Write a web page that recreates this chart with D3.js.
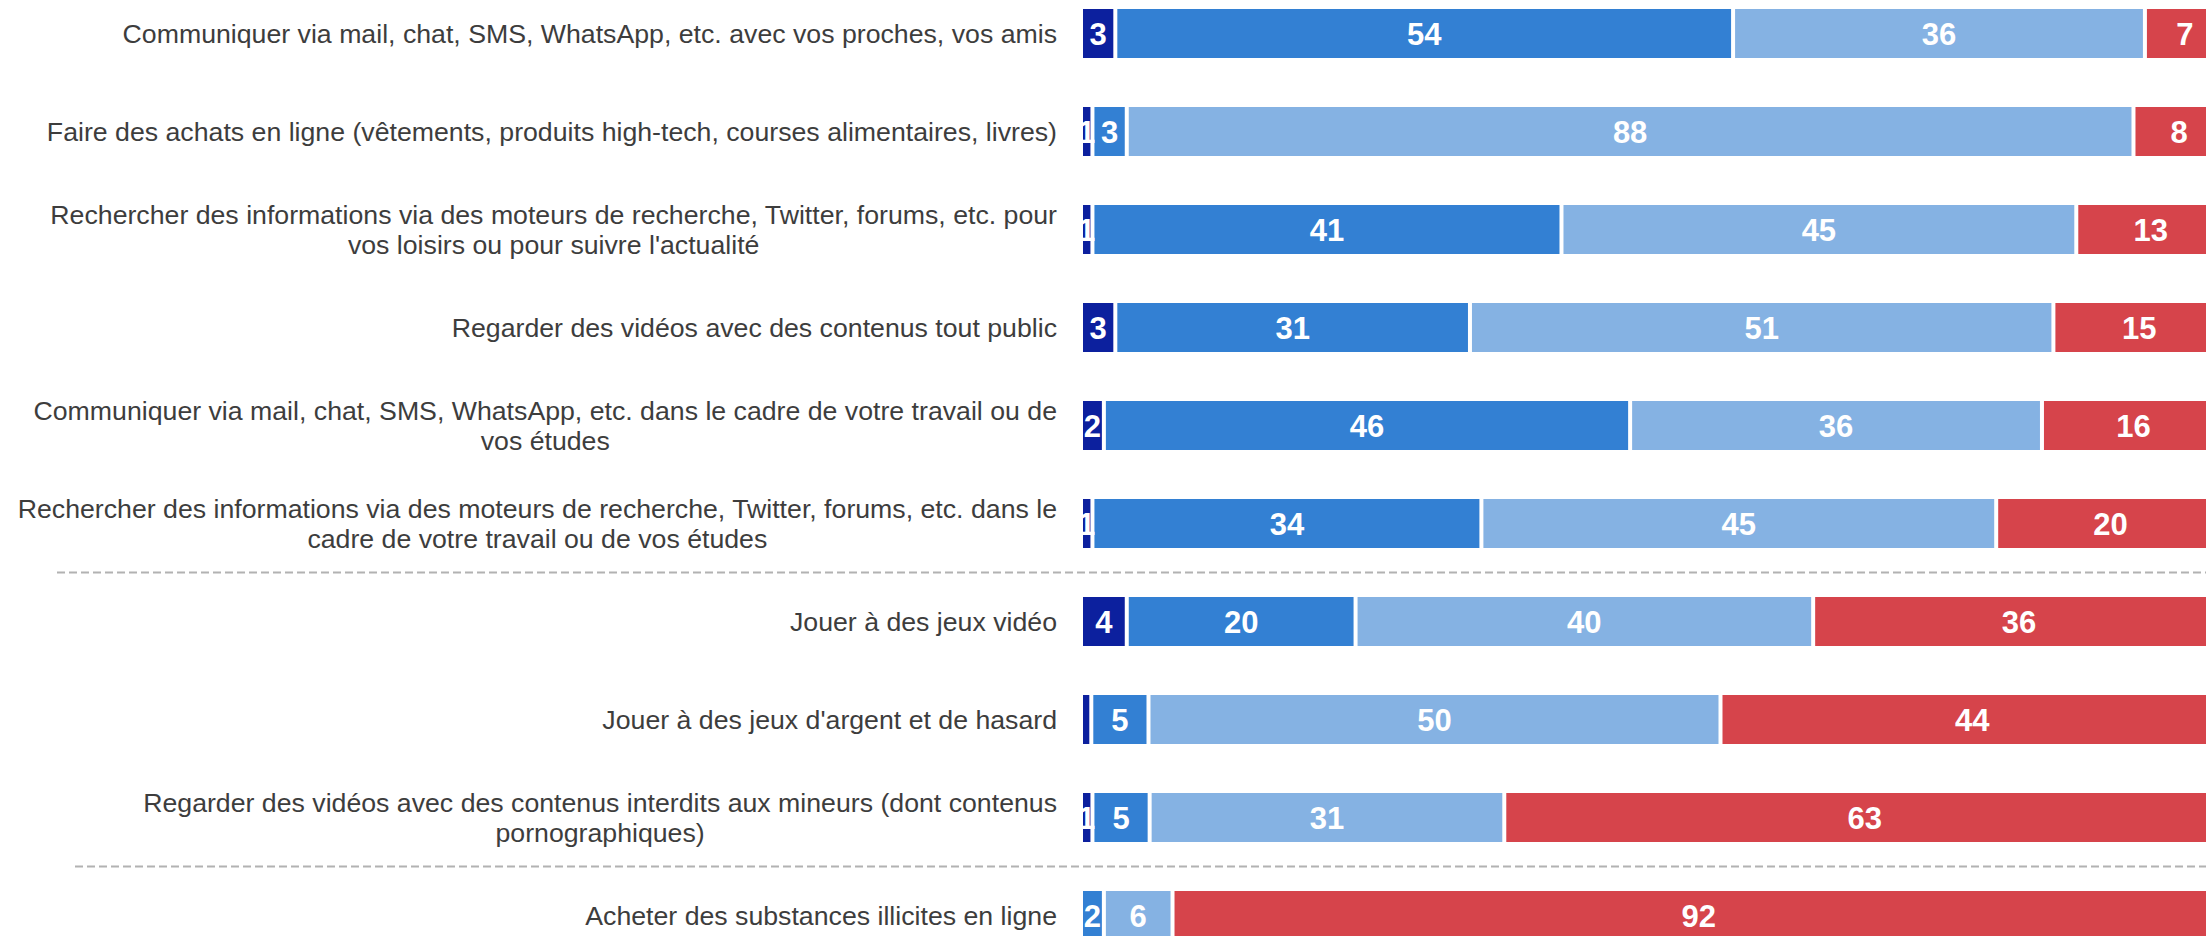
<!DOCTYPE html>
<html>
<head>
<meta charset="utf-8">
<script src="https://cdn.jsdelivr.net/npm/d3@7"></script>
<style>
  html, body { margin: 0; padding: 0; background: #fff; overflow: hidden; }
  svg { display: block; font-family: "Liberation Sans", Arial, sans-serif; }
</style>
</head>
<body>
<svg id="chart"></svg>
<script>
// Categories (line breaks as in the original)
const categories = [
  "Communiquer via mail, chat, SMS, WhatsApp, etc. avec vos proches, vos amis",
  "Faire des achats en ligne (vêtements, produits high-tech, courses alimentaires, livres)",
  "Rechercher des informations via des moteurs de recherche, Twitter, forums, etc. pour\nvos loisirs ou pour suivre l'actualité",
  "Regarder des vidéos avec des contenus tout public",
  "Communiquer via mail, chat, SMS, WhatsApp, etc. dans le cadre de votre travail ou de\nvos études",
  "Rechercher des informations via des moteurs de recherche, Twitter, forums, etc. dans le\ncadre de votre travail ou de vos études",
  "Jouer à des jeux vidéo",
  "Jouer à des jeux d'argent et de hasard",
  "Regarder des vidéos avec des contenus interdits aux mineurs (dont contenus\npornographiques)",
  "Acheter des substances illicites en ligne"
];

// Series values (%), one array per answer level
const s1 = [3, 1, 1, 3, 2, 1, 4, 0.9, 1, 0];
const s2 = [54, 3, 41, 31, 46, 34, 20, 5, 5, 2];
const s3 = [36, 88, 45, 51, 36, 45, 40, 50, 31, 6];
const s4 = [7, 8, 13, 15, 16, 20, 36, 44, 63, 92];

const series = [s1, s2, s3, s4];
const colors = ["#0c209e", "#3380d3", "#85b2e3", "#d6444b"];

// separators are drawn after these row indices
const groupBreaks = [5, 8];

const W = 2206, H = 936;
const svg = d3.select("#chart").attr("width", W).attr("height", H);

const x = d3.scaleLinear().domain([0, 100]).range([1081, 2225]);
const y = d3.scaleBand()
  .domain(d3.range(categories.length))
  .range([-15.5, -15.5 + 98 * categories.length])
  .paddingInner(0.5).paddingOuter(0.25);

// stacked segments
const rows = categories.map((c, i) => {
  let acc = 0;
  return series.map((s, k) => {
    const seg = { row: i, k, v: s[i], x0: acc, x1: acc + s[i] };
    acc += s[i];
    return seg;
  });
});
const segs = rows.flat().filter(d => d.v > 0);

const bars = svg.append("g");
bars.selectAll("rect").data(segs).enter()
  .append("rect")
  .attr("x", d => x(d.x0) + 2)
  .attr("width", d => Math.max(0, x(d.x1) - x(d.x0) - 4))
  .attr("y", d => y(d.row))
  .attr("height", y.bandwidth())
  .attr("fill", d => colors[d.k]);

bars.selectAll("text").data(segs.filter(d => d.v >= 1)).enter()
  .append("text")
  .attr("x", d => (x(d.x0) + x(d.x1)) / 2)
  .attr("y", d => y(d.row) + y.bandwidth() / 2 + 11.5)
  .attr("text-anchor", "middle")
  .attr("font-size", "31px")
  .attr("font-weight", "bold")
  .attr("fill", "#fff")
  .text(d => d.v);

// category labels: block right-aligned, lines centred
const labelRight = 1057;
const labels = svg.append("g").attr("fill", "#3d3d3d").attr("font-size", "26.7px");
categories.forEach((c, i) => {
  const lines = c.split("\n");
  const cy = y(i) + y.bandwidth() / 2;
  const t = labels.append("text").attr("text-anchor", "middle");
  const spans = lines.map((ln, j) => t.append("tspan")
    .attr("y", cy + 9 - (lines.length - 1) * 15 + j * 30)
    .text(ln));
  const maxW = d3.max(spans, s => s.node().getComputedTextLength());
  spans.forEach(s => s.attr("x", labelRight - maxW / 2));
});

// dashed group separators
const sepStart = [57, 75];
groupBreaks.forEach((r, j) => {
  const yy = (y(r) + y.bandwidth() + y(r + 1)) / 2;
  svg.append("line")
    .attr("x1", sepStart[j]).attr("x2", W)
    .attr("y1", yy).attr("y2", yy)
    .attr("stroke", "#b2b2b2")
    .attr("stroke-width", 2)
    .attr("stroke-dasharray", "8,4");
});
</script>
</body>
</html>
